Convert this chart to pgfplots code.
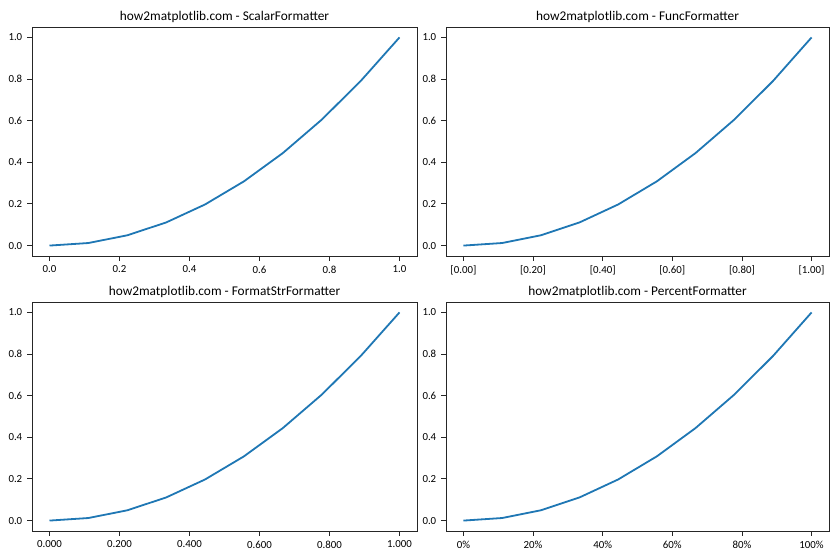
\documentclass[border=0pt]{standalone}
\usepackage{fontspec}
\setmainfont{Carlito}
\usepackage{pgfplots}
\pgfplotsset{compat=1.18}
\definecolor{mplblue}{HTML}{1F77B4}

\pgfplotsset{
  sub/.style={
    scale only axis, width=277.2pt, height=164.88pt,
    xmin=-0.05, xmax=1.05, ymin=-0.05, ymax=1.05,
    xtick={0,0.2,0.4,0.6,0.8,1.0}, ytick={0,0.2,0.4,0.6,0.8,1.0},
    tick align=outside, tick pos=left, major tick length=3.5pt,
    axis line style={line width=0.65pt, black!85}, tick style={line width=0.65pt, black!85},
    /pgf/number format/assume math mode=true,
    ticklabel style={font=\fontsize{7.8}{9}\selectfont},
    yticklabel style={/pgf/number format/.cd, fixed, fixed zerofill, precision=1},
    title style={font=\fontsize{9.6}{11}\selectfont, at={(0.5,1)}, anchor=base, inner sep=0pt, yshift=-1pt},
    anchor=south west,
  },
}

\begin{document}
\begin{tikzpicture}
\useasboundingbox (0,0) rectangle (604.8pt,403.2pt);

\begin{axis}[sub, at={(23.04pt,218.88pt)}, title={how2matplotlib.com - ScalarFormatter},
  xticklabel style={/pgf/number format/.cd, fixed, fixed zerofill, precision=1}]
\addplot[mplblue, line width=1.3pt] coordinates {(0,0) (0.1111,0.0123) (0.2222,0.0494) (0.3333,0.1111) (0.4444,0.1975) (0.5556,0.3086) (0.6667,0.4444) (0.7778,0.6049) (0.8889,0.7901) (1,1)};
\end{axis}

\begin{axis}[sub, at={(321.12pt,218.88pt)}, width=275.76pt, title={how2matplotlib.com - FuncFormatter},
  xticklabel={[\pgfmathprintnumber[fixed,fixed zerofill,precision=2]{\tick}]}]
\addplot[mplblue, line width=1.3pt] coordinates {(0,0) (0.1111,0.0123) (0.2222,0.0494) (0.3333,0.1111) (0.4444,0.1975) (0.5556,0.3086) (0.6667,0.4444) (0.7778,0.6049) (0.8889,0.7901) (1,1)};
\end{axis}

\begin{axis}[sub, at={(23.04pt,20.88pt)}, title={how2matplotlib.com - FormatStrFormatter},
  xticklabel style={/pgf/number format/.cd, fixed, fixed zerofill, precision=3}]
\addplot[mplblue, line width=1.3pt] coordinates {(0,0) (0.1111,0.0123) (0.2222,0.0494) (0.3333,0.1111) (0.4444,0.1975) (0.5556,0.3086) (0.6667,0.4444) (0.7778,0.6049) (0.8889,0.7901) (1,1)};
\end{axis}

\begin{axis}[sub, at={(321.12pt,20.88pt)}, width=275.76pt, title={how2matplotlib.com - PercentFormatter},
  xticklabel={\pgfmathparse{\tick*100}\pgfmathprintnumber[fixed,precision=0]{\pgfmathresult}\%}]
\addplot[mplblue, line width=1.3pt] coordinates {(0,0) (0.1111,0.0123) (0.2222,0.0494) (0.3333,0.1111) (0.4444,0.1975) (0.5556,0.3086) (0.6667,0.4444) (0.7778,0.6049) (0.8889,0.7901) (1,1)};
\end{axis}
\end{tikzpicture}
\end{document}
